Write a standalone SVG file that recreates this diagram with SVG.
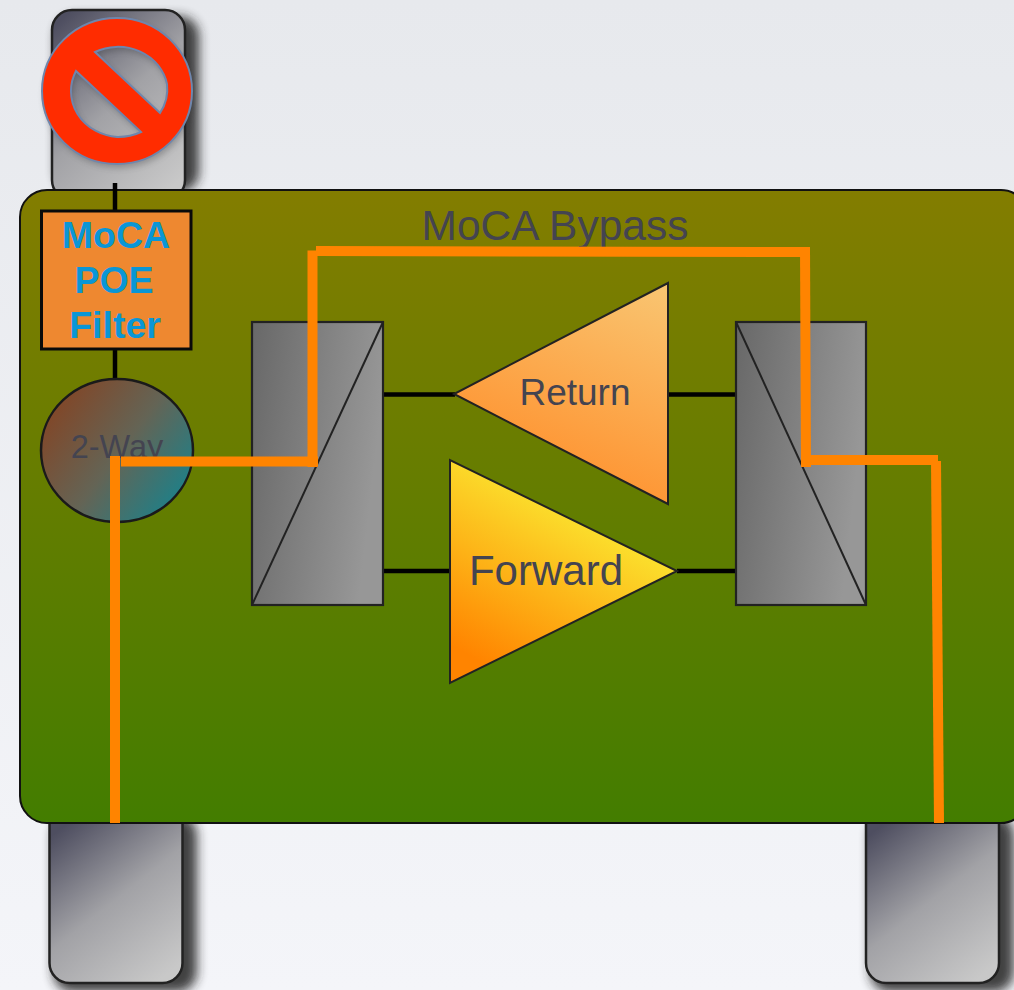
<svg xmlns="http://www.w3.org/2000/svg" width="1014" height="990" viewBox="0 0 1014 990">
<style>
.tab{fill:url(#tabG);stroke:#222;stroke-width:2.5}
.shadow{fill:#222;opacity:.85;filter:url(#blur)}
.wire{stroke:#000;stroke-width:4.500;fill:none}
.hot{stroke:#ff8400;stroke-width:10;fill:none}
.dip{fill:url(#dipG);stroke:#222;stroke-width:2.2}
.thin{stroke:#222;stroke-width:2;fill:none}
text{font-family:"Liberation Sans",Arial,sans-serif;text-anchor:middle;fill:#444450}
.poe{font-weight:bold;font-size:37.500px;fill:#0a96d6}
</style>
<defs>
<filter id="blur" x="-30%" y="-30%" width="160%" height="160%"><feGaussianBlur stdDeviation="5.500"/></filter>
<filter id="soft" x="-20%" y="-20%" width="140%" height="140%"><feGaussianBlur stdDeviation="3"/></filter>
<linearGradient id="bg" x1="0" y1="0" x2="0" y2="1"><stop offset="0" stop-color="#e7e9ed"/><stop offset="1" stop-color="#f4f5f9"/></linearGradient>
<linearGradient id="tabG" x1="0.15" y1="0" x2="0.8" y2="1"><stop offset="0" stop-color="#4e4e60"/><stop offset="0.5" stop-color="#a2a2a6"/><stop offset="1" stop-color="#c8c8c8"/></linearGradient>
<linearGradient id="panelG" x1="0" y1="0" x2="0" y2="1"><stop offset="0" stop-color="#837d00"/><stop offset="1" stop-color="#437d00"/></linearGradient>
<linearGradient id="dipG" x1="0" y1="0" x2="1" y2="0.25"><stop offset="0" stop-color="#686868"/><stop offset="1" stop-color="#979797"/></linearGradient>
<linearGradient id="wayG" x1="0.1" y1="0.2" x2="0.95" y2="0.8"><stop offset="0" stop-color="#80482a"/><stop offset="0.5" stop-color="#646455"/><stop offset="1" stop-color="#1e8088"/></linearGradient>
<linearGradient id="retG" x1="0.9" y1="0" x2="0.5" y2="1"><stop offset="0" stop-color="#f9c470"/><stop offset="1" stop-color="#ff8e2a"/></linearGradient>
<linearGradient id="fwdG" x1="0.7" y1="0.3" x2="0.3" y2="1"><stop offset="0" stop-color="#fbe22e"/><stop offset="1" stop-color="#ff8400"/></linearGradient>
<path id="signShape" fill-rule="evenodd" d="M192 91A75 73 0 1 1 42 91A75 73 0 1 1 192 91ZM95 52A50 46 0 0 1 167 84A50 46 0 0 1 160 113ZM76 71L141 132A50 46 0 0 1 117 137A50 46 0 0 1 76 71Z"/>
</defs>
<rect id="background" width="1014" height="990" fill="url(#bg)"/>

<g id="tab-top">
<rect class="shadow" x="56" y="16" width="143" height="176" rx="20"/>
<rect class="tab" x="52" y="10" width="133" height="190" rx="20"/>
</g>
<g id="tab-left">
<rect class="shadow" x="53" y="815" width="144" height="177" rx="20"/>
<path class="tab" d="M49.500 822V963A20 20 0 0 0 69.500 983H162.500A20 20 0 0 0 182.500 963V822Z"/>
</g>
<g id="tab-right">
<rect class="shadow" x="870" y="815" width="144" height="177" rx="20"/>
<path class="tab" d="M866 822V963A20 20 0 0 0 886 983H979A20 20 0 0 0 999 963V822Z"/>
</g>

<g id="panel">
<rect x="20" y="190" width="1008" height="633" rx="27" fill="url(#panelG)" stroke="#111" stroke-width="2"/>
<text x="555" y="240" font-size="42.500">MoCA Bypass</text>
</g>

<g id="connectors">
<path class="wire" d="M115 183V212"/>
<path class="wire" d="M115 349V380"/>
<path class="wire" d="M383 394.500H455"/>
<path class="wire" d="M668 394.500H736"/>
<path class="wire" d="M383 571H450"/>
<path class="wire" d="M677 571H736"/>
</g>

<g id="poe-filter">
<rect x="41.500" y="211" width="149.500" height="138" fill="#ee8830" stroke="#0a0a0a" stroke-width="3"/>
<text class="poe" x="116" y="248">MoCA</text>
<text class="poe" x="114" y="293">POE</text>
<text class="poe" x="115" y="338">Filter</text>
</g>

<g id="two-way">
<ellipse cx="117" cy="450.500" rx="76" ry="71.500" fill="url(#wayG)" stroke="#1a1a1a" stroke-width="2.500"/>
<text x="117" y="458" font-size="32.500">2-Way</text>
</g>

<g id="diplexer-left">
<rect class="dip" x="252" y="322" width="131" height="283"/>
<path class="thin" d="M252 605L383 322"/>
</g>
<g id="diplexer-right">
<rect class="dip" x="736" y="322" width="130" height="283"/>
<path class="thin" d="M736 322L866 605"/>
</g>

<g id="return-amp">
<path d="M668 283V504L454 394Z" fill="url(#retG)" stroke="#222" stroke-width="2"/>
<text x="575" y="405" font-size="37">Return</text>
</g>
<g id="forward-amp">
<path d="M450 460V683L677 571Z" fill="url(#fwdG)" stroke="#222" stroke-width="2"/>
<text x="546" y="585" font-size="42">Forward</text>
</g>

<g id="bypass-path">
<path class="hot" d="M115 823V456"/>
<path class="hot" d="M121 461.500H318"/>
<path class="hot" d="M312.500 467V250.500"/>
<path class="hot" d="M316 251L810 252"/>
<path class="hot" d="M805 247L806 467"/>
<path class="hot" d="M801 460H938"/>
<path class="hot" d="M936 461L939 823"/>
</g>

<g id="no-sign">
<use href="#signShape" fill="#333" opacity="0.3" transform="translate(2 4)" filter="url(#soft)"/>
<use href="#signShape" fill="#ff2c00" stroke="#6f86ac" stroke-width="2"/>
</g>
</svg>
